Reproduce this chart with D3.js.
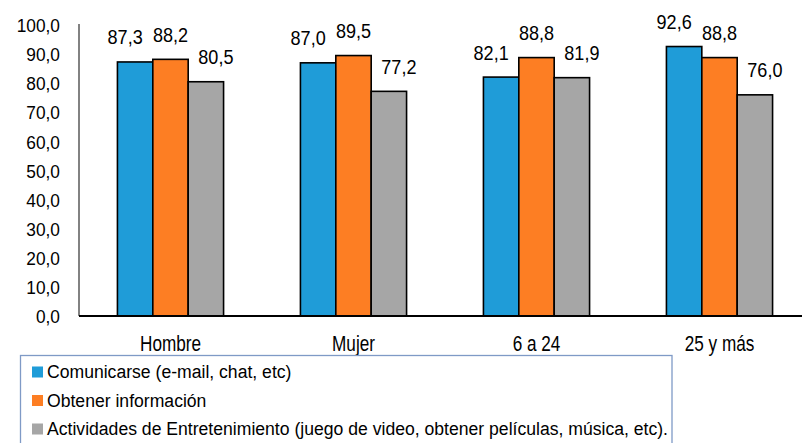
<!DOCTYPE html>
<html><head><meta charset="utf-8">
<script src="https://cdn.jsdelivr.net/npm/d3@7"></script>
<style>
html,body{margin:0;padding:0;background:#fff;}
svg text{font-family:"Liberation Sans",Arial,sans-serif;fill:#000;}
</style></head>
<body>
<svg id="chart" width="802" height="443"></svg>
<script>
const categories = ["Hombre", "Mujer", "6 a 24", "25 y más"];
const seriesNames = [
  "Comunicarse (e-mail, chat, etc)",
  "Obtener información",
  "Actividades de Entretenimiento (juego de video, obtener películas, música, etc)."
];
const comunicarse = [87.3, 87.0, 82.1, 92.6];
const informacion = [88.2, 89.5, 88.8, 88.8];
const entretenimiento = [80.5, 77.2, 81.9, 76.0];
const yTicks = [0, 10, 20, 30, 40, 50, 60, 70, 80, 90, 100];

const seriesValues = [comunicarse, informacion, entretenimiento];
const colors = ["#1F9CD8", "#FD7E23", "#A6A6A6"];
const labelDx = [-10, 0, 10];

const svg = d3.select("#chart");
const fmt = v => d3.format(".1f")(v).replace(".", ",");

const x0 = d3.scaleBand().domain(categories).range([79, 811]).paddingInner(0.42).paddingOuter(0.21);
const x1 = d3.scaleBand().domain(d3.range(seriesValues.length)).range([0, x0.bandwidth()]);
const y = d3.scaleLinear().domain([0, 100]).range([316, 25]);

// y axis
const yAxis = svg.append("g").attr("transform", "translate(79,0)")
  .call(d3.axisLeft(y).tickValues(yTicks).tickFormat(fmt).tickSize(0).tickPadding(19));
yAxis.select(".domain").attr("stroke", "#595959").attr("stroke-width", 1.5).attr("d", "M0," + (y(100) - 1) + "V" + y(0));
yAxis.selectAll("text")
  .attr("x", 0).attr("dy", "0.36em")
  .attr("transform", "translate(-19,0) scale(0.93,1)")
  .attr("font-size", "18.6px").attr("font-family", "Liberation Sans, Arial, sans-serif");

// bars
const groups = svg.append("g").selectAll("g").data(categories).join("g")
  .attr("transform", d => `translate(${x0(d)},0)`);
groups.each(function(cat, ci) {
  const g = d3.select(this);
  seriesValues.forEach((vals, si) => {
    g.append("rect")
      .attr("x", x1(si)).attr("width", x1.bandwidth())
      .attr("y", y(vals[ci])).attr("height", y(0) - y(vals[ci]))
      .attr("fill", colors[si]).attr("stroke", "#000").attr("stroke-width", 1.6);
    const lx = x1(si) + x1.bandwidth() / 2 + labelDx[si];
    const lyy = y(vals[ci]) - 17.5;
    g.append("text")
      .attr("transform", `translate(${lx},${lyy}) scale(0.86,1)`)
      .attr("text-anchor", "middle").attr("font-size", "21px")
      .text(fmt(vals[ci]));
  });
});

// x axis
const xAxis = svg.append("g").attr("transform", `translate(0,${y(0)})`)
  .call(d3.axisBottom(x0).tickSize(0));
xAxis.select(".domain").attr("stroke", "#000").attr("stroke-width", 2.2).attr("d", "M79,0H802");
xAxis.selectAll("text")
  .attr("y", 0).attr("dy", 0)
  .attr("transform", "translate(0,34.7) scale(0.78,1)")
  .attr("font-size", "22px").attr("font-family", "Liberation Sans, Arial, sans-serif");

// legend
const legend = svg.append("g");
legend.append("rect").attr("x", 20.5).attr("y", 355.5).attr("width", 651.5).attr("height", 100)
  .attr("fill", "none").attr("stroke", "#7F9AC6").attr("stroke-width", 1.3);
const ly = d3.scalePoint().domain(seriesNames).range([372, 429]);
seriesNames.forEach((name, i) => {
  legend.append("rect").attr("x", 32).attr("y", ly(name) - 5.5).attr("width", 11).attr("height", 11).attr("fill", colors[i]);
  legend.append("text").attr("x", 47).attr("y", ly(name)).attr("dy", "0.36em")
    .attr("font-size", "17.6px").text(name);
});
</script>
</body></html>
